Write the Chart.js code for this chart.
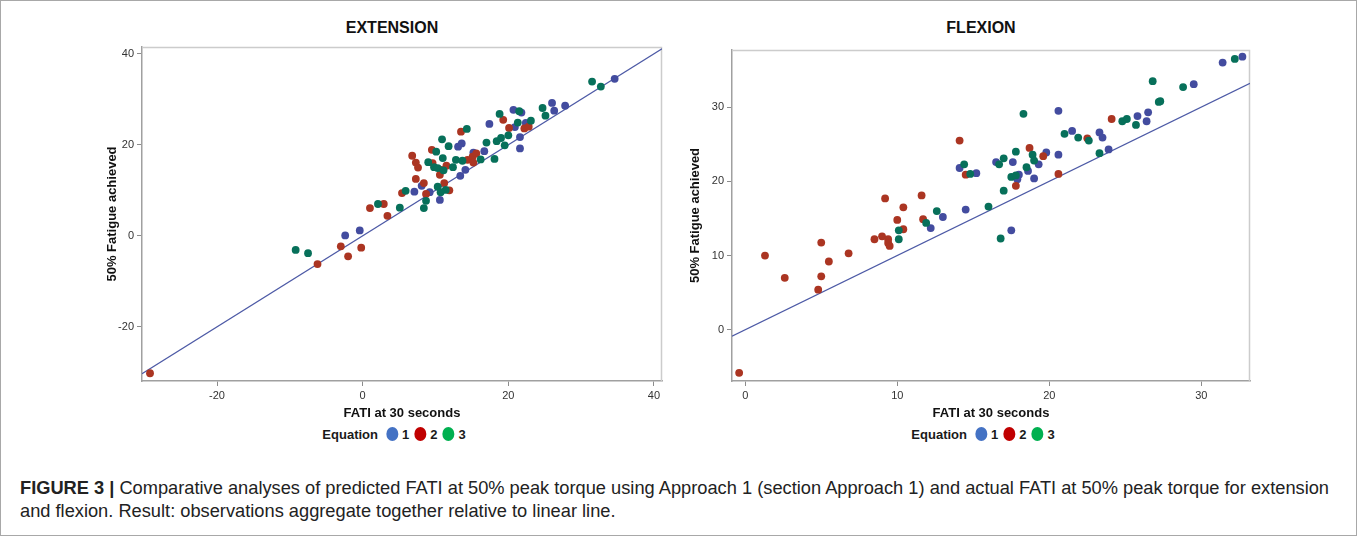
<!DOCTYPE html>
<html lang="en">
<head>
<meta charset="UTF-8">
<title>Figure 3 - Extension / Flexion</title>
<script src="https://cdn.jsdelivr.net/npm/chart.js"></script>
<style>
  body { margin: 0; background: #fff; font-family: "Liberation Sans", Arial, sans-serif; }
  #page { position: relative; width: 1357px; height: 536px; overflow: hidden; }
  #border { position: absolute; left: 0; top: 0; width: 1355px; height: 534px; border: 1px solid #a8a8a8; }
  .wrap { position: absolute; top: 0; height: 425px; }
  .ptitle { position: absolute; top: 19px; font-size: 16px; font-weight: bold; color: #111; transform: translateX(-50%); white-space: nowrap; }
  .legend { position: absolute; top: 427px; font-size: 13px; font-weight: bold; color: #1a1a1a; white-space: nowrap; transform: translateX(-50%); }
  .legend .dot { display: inline-block; width: 12px; height: 14px; border-radius: 50%; vertical-align: -2px; margin: 0 4px 0 5px; }
  .legend .first { margin-left: 8px; }
  #caption { position: absolute; left: 20px; top: 476px; font-family: "Liberation Sans Narrow", "Liberation Sans", Arial, sans-serif; font-size: 16px; line-height: 23px; color: #222; white-space: nowrap; }
</style>
</head>
<body>
<div id="page">
  <div id="border"></div>

  <div class="ptitle" style="left:392px">EXTENSION</div>
  <div class="wrap" style="left:101px; width:565px;"><canvas id="extChart"></canvas></div>
  <div class="legend" style="left:394px">Equation<span class="dot first" id="l1a"></span>1<span class="dot" id="l2a"></span>2<span class="dot" id="l3a"></span>3</div>

  <div class="ptitle" style="left:981px">FLEXION</div>
  <div class="wrap" style="left:684px; width:570px;"><canvas id="flexChart"></canvas></div>
  <div class="legend" style="left:983px">Equation<span class="dot first" id="l1b"></span>1<span class="dot" id="l2b"></span>2<span class="dot" id="l3b"></span>3</div>

  <div id="caption">
    <span id="line1"><b>FIGURE 3 |</b> Comparative analyses of predicted FATI at 50% peak torque using Approach 1 (section Approach 1) and actual FATI at 50% peak torque for extension</span><br>
    <span>and flexion. Result: observations aggregate together relative to linear line.</span>
  </div>
</div>

<script>
// ---- data: [FATI at 30 s, 50% fatigue achieved] ----
const extensionEq1 = [[-2.4, 0.1], [-0.4, 1.2], [7.1, 9.7], [8.1, 11.0], [9.2, 9.6], [10.6, 7.9], [13.4, 13.2],
  [14.1, 14.5], [13.1, 19.6], [13.6, 20.3], [15.2, 18.3], [16.7, 18.6], [17.4, 24.6], [20.7, 27.7], [21.8, 27.1],
  [20.9, 23.9], [22.4, 24.8], [21.6, 21.7], [21.6, 19.2], [26.0, 29.2], [26.3, 27.5], [27.8, 28.6], [34.6, 34.5]];
const extensionEq2 = [[-29.2, -30.2], [-6.2, -6.2], [-3.0, -2.3], [-2.0, -4.5], [-0.2, -2.6], [1.0, 6.1], [2.9, 7.0],
  [3.4, 4.4], [5.4, 9.4], [6.8, 17.6], [7.3, 16.1], [7.6, 15.0], [7.3, 12.5], [8.4, 11.6], [8.7, 9.2], [9.5, 18.9],
  [9.6, 16.0], [10.8, 14.5], [10.6, 13.4], [11.2, 11.6], [11.9, 10.0], [11.5, 15.4], [13.5, 22.9], [14.4, 16.7],
  [15.1, 17.4], [15.6, 18.1], [15.2, 16.1], [19.3, 25.5], [20.1, 23.7], [22.2, 23.6], [22.8, 24.0]];
const extensionEq3 = [[-9.2, -3.1], [-7.5, -3.8], [2.1, 7.0], [5.1, 6.2], [5.9, 9.9], [8.4, 6.1], [8.7, 7.7],
  [9.0, 16.2], [9.8, 15.1], [10.3, 14.9], [10.1, 18.5], [11.0, 17.1], [10.9, 21.2], [11.1, 14.4], [11.4, 10.1],
  [10.3, 10.8], [10.7, 9.6], [11.8, 19.7], [12.4, 15.1], [12.8, 16.7], [14.3, 23.5], [13.7, 16.5], [16.2, 16.8],
  [17.0, 20.5], [18.1, 16.9], [18.4, 20.8], [19.0, 21.5], [18.8, 26.8], [19.5, 19.9], [20.0, 22.1], [21.5, 27.4],
  [21.3, 24.9], [23.1, 25.3], [24.7, 28.1], [25.1, 26.4], [31.5, 33.9], [32.7, 32.8]];

const flexionEq1 = [[12.2, 13.7], [13.0, 15.2], [14.5, 16.2], [17.5, 13.4], [14.1, 21.8], [15.2, 21.1], [16.5, 22.6],
  [17.6, 22.6], [18.0, 20.9], [17.9, 20.3], [18.6, 21.4], [19.3, 22.3], [19.0, 20.4], [19.8, 23.9], [20.6, 29.5],
  [20.6, 23.6], [21.5, 26.8], [23.3, 26.6], [23.5, 25.9], [23.9, 24.3], [25.8, 28.8], [26.4, 28.1], [26.5, 29.3],
  [29.5, 33.1], [31.4, 36.0], [32.7, 36.8]];
const flexionEq2 = [[-0.4, -5.8], [1.3, 10.0], [2.6, 7.0], [4.8, 5.4], [5.0, 7.2], [5.0, 11.75], [5.5, 9.2],
  [6.8, 10.3], [8.5, 12.2], [9.0, 12.6], [9.4, 12.2], [9.4, 11.7], [9.5, 11.3], [10.0, 14.8], [10.4, 13.55],
  [10.4, 16.5], [9.2, 17.7], [11.7, 14.9], [11.6, 18.1], [14.1, 25.5], [14.5, 20.9], [17.8, 19.4], [18.7, 24.5],
  [19.6, 23.4], [20.6, 21.0], [22.5, 25.8], [24.1, 28.4]];
const flexionEq3 = [[10.1, 13.4], [10.1, 12.2], [11.9, 14.4], [12.6, 16.0], [16.0, 16.6], [16.8, 12.3], [14.4, 22.3],
  [14.8, 21.0], [16.7, 22.3], [17.0, 23.1], [17.0, 18.75], [17.8, 24.0], [17.5, 20.6], [17.8, 20.8], [18.3, 29.1],
  [18.5, 21.9], [18.9, 23.6], [19.0, 22.8], [21.0, 26.4], [21.9, 25.9], [22.6, 25.5], [23.3, 23.8], [24.8, 28.1],
  [25.1, 28.4], [25.7, 27.6], [26.8, 33.5], [27.2, 30.7], [27.3, 30.8], [28.8, 32.7], [32.2, 36.5]];

// axes
const extXRange = [-30.3, 41.1];
const extYRange = [-31.9, 41.5];
const extXTicks = [-20, 0, 20, 40];
const extYTicks = [-20, 0, 20, 40];
const flexXRange = [-0.87, 33.2];
const flexYRange = [-6.9, 37.7];
const flexXTicks = [0, 10, 20, 30];
const flexYTicks = [0, 10, 20, 30];

const xTitle = 'FATI at 30 seconds';
const yTitle = '50% Fatigue achieved';
const eqLabels = ['1', '2', '3'];
const markerColors = ['#434c9f', '#ab3522', '#07705a'];
const legendColors = ['#4472c4', '#c00000', '#00b050'];

// light frame on the top and right of the plot area
const framePlugin = {
  id: 'frame',
  beforeDatasetsDraw(chart) {
    const { ctx, chartArea: a } = chart;
    ctx.save();
    ctx.strokeStyle = '#cccccc';
    ctx.lineWidth = 1.5;
    ctx.beginPath();
    ctx.moveTo(a.left, a.top + 0.5);
    ctx.lineTo(a.right - 0.5, a.top + 0.5);
    ctx.lineTo(a.right - 0.5, a.bottom);
    ctx.stroke();
    ctx.restore();
  }
};

function axis(pos, range, ticks, title, size) {
  return {
    type: 'linear',
    position: pos,
    min: range[0],
    max: range[1],
    afterBuildTicks: s => { s.ticks = ticks.map(v => ({ value: v })); },
    afterFit: s => { if (pos === 'left') s.width = size; else s.height = size; },
    grid: { drawOnChartArea: false, drawTicks: true, tickLength: 5, color: '#8c8c8c' },
    border: { color: '#a0a0a0', width: 1.5 },
    ticks: { padding: 3, color: '#333', font: { size: 11 }, maxRotation: 0, autoSkip: false },
    title: { display: true, text: title, color: '#111', font: { size: 13, weight: 'bold' }, padding: { top: 4, bottom: 4 } }
  };
}

function toPts(arr) { return arr.map(p => ({ x: p[0], y: p[1] })); }

function makeChart(id, series, xr, yr, xt, yt, yWidth, top) {
  const datasets = series.map((s, i) => ({
    type: 'scatter',
    label: eqLabels[i],
    data: toPts(s),
    backgroundColor: markerColors[i],
    borderWidth: 0,
    pointRadius: 3.9,
    order: 3 - i
  }));
  // reference line y = x across the x range
  datasets.push({
    type: 'line',
    data: [{ x: xr[0], y: xr[0] }, { x: xr[1], y: xr[1] }],
    borderColor: '#4d5aa6',
    borderWidth: 1.2,
    pointRadius: 0,
    order: 10
  });
  return new Chart(document.getElementById(id), {
    type: 'scatter',
    data: { datasets },
    options: {
      responsive: true,
      maintainAspectRatio: false,
      animation: false,
      layout: { padding: { top: top, right: 0, bottom: 0, left: 0 } },
      plugins: { legend: { display: false }, tooltip: { enabled: false } },
      scales: {
        x: axis('bottom', xr, xt, xTitle, 44),
        y: axis('left', yr, yt, yTitle, yWidth)
      }
    },
    plugins: [framePlugin]
  });
}

Chart.defaults.font.family = '"Liberation Sans", Arial, sans-serif';

makeChart('extChart', [extensionEq1, extensionEq2, extensionEq3], extXRange, extYRange, extXTicks, extYTicks, 41, 47);
makeChart('flexChart', [flexionEq1, flexionEq2, flexionEq3], flexXRange, flexYRange, flexXTicks, flexYTicks, 48, 50);

// legend swatches
['a', 'b'].forEach(k => {
  legendColors.forEach((c, i) => { document.getElementById('l' + (i + 1) + k).style.background = c; });
});

// fit the caption's first line to the figure width
const cap = document.getElementById('caption');
const w = document.getElementById('line1').getBoundingClientRect().width;
cap.style.fontSize = (16 * 1310 / w).toFixed(2) + 'px';
</script>
</body>
</html>
